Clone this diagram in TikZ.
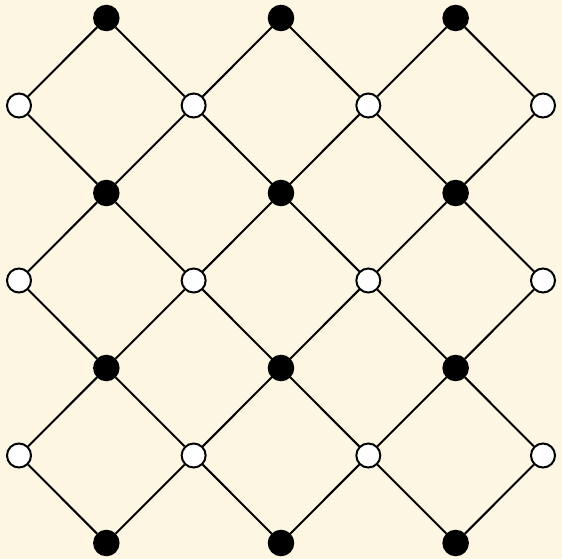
\documentclass[tikz,border=0pt]{standalone}
\definecolor{bgcream}{HTML}{FDF6E3}
\tikzset{
  blacknode/.style={circle,fill=black,draw=black,line width=1.5pt,minimum size=25pt,inner sep=0pt},
  whitenode/.style={circle,fill=white,draw=black,line width=2pt,minimum size=24pt,inner sep=0pt},
  edge/.style={line width=2pt,draw=black}
}
\begin{document}
\begin{tikzpicture}[x=1pt,y=1pt]
\fill[bgcream] (0,0) rectangle (562,-559);
\useasboundingbox (0,0) rectangle (562,-559);
% black nodes: odd i, even j
\foreach \i in {1,3,5}{
  \foreach \j in {0,2,4,6}{
    \node[blacknode] (b-\i-\j) at ({19+87.33*\i},{-(18+87.5*\j)}) {};
  }
}
% white nodes: even i, odd j
\foreach \i in {0,2,4,6}{
  \foreach \j in {1,3,5}{
    \node[whitenode] (w-\i-\j) at ({19+87.33*\i},{-(18+87.5*\j)}) {};
  }
}
% edges
\foreach \i in {1,3,5}{
  \foreach \j in {0,2,4,6}{
    \pgfmathtruncatemacro{\il}{\i-1}
    \pgfmathtruncatemacro{\ir}{\i+1}
    \pgfmathtruncatemacro{\ju}{\j-1}
    \pgfmathtruncatemacro{\jd}{\j+1}
    \ifnum\j>0
      \draw[edge] (b-\i-\j) -- (w-\il-\ju);
      \draw[edge] (b-\i-\j) -- (w-\ir-\ju);
    \fi
    \ifnum\j<6
      \draw[edge] (b-\i-\j) -- (w-\il-\jd);
      \draw[edge] (b-\i-\j) -- (w-\ir-\jd);
    \fi
  }
}
\end{tikzpicture}
\end{document}
